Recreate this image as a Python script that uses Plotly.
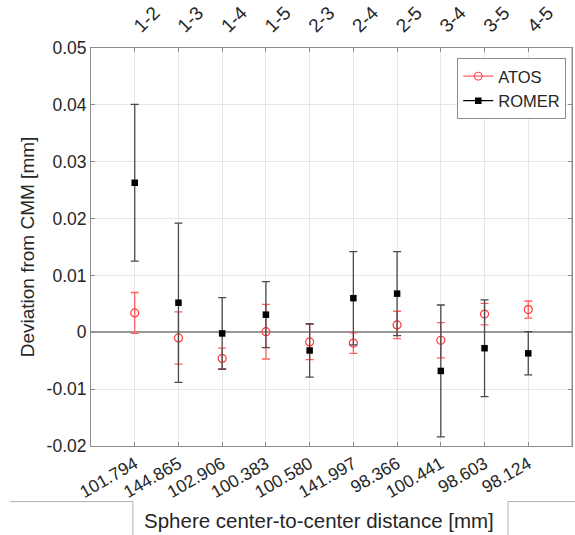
import plotly.graph_objects as go

pairs = ["1-2", "1-3", "1-4", "1-5", "2-3", "2-4", "2-5", "3-4", "3-5", "4-5"]
distances = ["101.794", "144.865", "102.906", "100.383", "100.580",
             "141.997", "98.366", "100.441", "98.603", "98.124"]
positions = list(range(1, 11))

atos_dev = [0.0034, -0.0010, -0.0046, 0.0001, -0.0017, -0.0019, 0.0013, -0.0014, 0.0032, 0.0040]
atos_err = [0.0036, 0.0046, 0.0018, 0.0048, 0.0031, 0.0018, 0.0024, 0.0031, 0.0019, 0.0015]
romer_dev = [0.0263, 0.0052, -0.0002, 0.0031, -0.0032, 0.0060, 0.0068, -0.0068, -0.0028, -0.0037]
romer_err = [0.0138, 0.0140, 0.0063, 0.0058, 0.0047, 0.0082, 0.0074, 0.0116, 0.0085, 0.0038]

FONT = "Liberation Sans, Arial, sans-serif"

fig = go.Figure()

fig.add_trace(go.Scatter(
    x=positions, y=atos_dev, mode="markers", name="ATOS", showlegend=False,
    marker=dict(symbol="circle-open", color="#ff3b3b", size=8, line=dict(width=1.2)),
    error_y=dict(type="data", array=atos_err, visible=True, color="#ff6060",
                 thickness=1.3, width=4),
))
fig.add_trace(go.Scatter(
    x=positions, y=romer_dev, mode="markers", name="ROMER", showlegend=False,
    marker=dict(symbol="square", color="black", size=6.5),
    error_y=dict(type="data", array=romer_err, visible=True, color="#4a4a4a",
                 thickness=1.3, width=4),
))
# legend entries (line + marker, MATLAB style)
fig.add_trace(go.Scatter(
    x=[None], y=[None], mode="lines+markers", name="ATOS",
    line=dict(color="#ff6060", width=1.3),
    marker=dict(symbol="circle-open", color="#ff3b3b", size=8),
))
fig.add_trace(go.Scatter(
    x=[None], y=[None], mode="lines+markers", name="ROMER",
    line=dict(color="black", width=1.3),
    marker=dict(symbol="square", color="black", size=6.5),
))
# invisible trace for the top axis
fig.add_trace(go.Scatter(
    x=positions, y=atos_dev, xaxis="x2", mode="markers",
    marker=dict(opacity=0), showlegend=False, hoverinfo="skip",
))

axis_common = dict(
    showline=True, linecolor="#8c8c8c", linewidth=1,
    ticks="inside", ticklen=4, tickcolor="#8c8c8c",
    showgrid=True, gridcolor="#e6e6e6", gridwidth=1,
)
tick_font = dict(family=FONT, size=17.5, color="#262626")

fig.update_layout(
    width=575, height=535,
    margin=dict(l=91, r=2, t=45, b=89),
    paper_bgcolor="white", plot_bgcolor="white",
    font=dict(family=FONT, color="#262626"),
    xaxis=dict(
        range=[0, 11], tickmode="array", tickvals=positions, ticktext=distances,
        tickangle=-30, mirror=False, zeroline=False, tickfont=tick_font,
        **axis_common,
    ),
    xaxis2=dict(
        range=[0, 11], tickmode="array", tickvals=positions, ticktext=pairs,
        tickangle=-45, overlaying="x", side="top", zeroline=False,
        tickfont=dict(family=FONT, size=19, color="#262626"), ticklabelstandoff=3,
        **axis_common,
    ),
    yaxis=dict(
        range=[-0.02, 0.05], tickmode="array",
        tickvals=[-0.02, -0.01, 0, 0.01, 0.02, 0.03, 0.04, 0.05],
        ticktext=["-0.02", "-0.01", "0", "0.01", "0.02", "0.03", "0.04", "0.05"],
        mirror="ticks", zeroline=True, zerolinecolor="#999999", zerolinewidth=1.5,
        tickfont=tick_font,
        title=dict(text="Deviation from CMM [mm]",
                   font=dict(family=FONT, size=19, color="#262626"), standoff=6),
        **axis_common,
    ),
    legend=dict(
        x=0.988, y=0.975, xanchor="right", yanchor="top",
        bgcolor="white", bordercolor="#8c8c8c", borderwidth=1,
        font=dict(family=FONT, size=16.5, color="#262626"),
        tracegroupgap=0, itemwidth=30,
    ),
    showlegend=True,
)

# right border
fig.add_shape(type="line", xref="paper", yref="paper", x0=1, x1=1, y0=0, y1=1,
              line=dict(color="#8c8c8c", width=1))

fig.add_annotation(
    text="Sphere center-to-center distance [mm]", xref="paper", yref="paper",
    x=0.475, y=-0.186, showarrow=False, xanchor="center", yanchor="middle",
    font=dict(family=FONT, size=20.5, color="#262626"),
)

gray = dict(color="#b0b0b0", width=1)
fig.add_shape(type="line", xref="paper", yref="paper", x0=-0.168, x1=0.0871,
              y0=-0.1397, y1=-0.1397, line=gray)
fig.add_shape(type="line", xref="paper", yref="paper", x0=0.0871, x1=0.0871,
              y0=-0.1397, y1=-0.23, line=gray)
fig.add_shape(type="line", xref="paper", yref="paper", x0=0.867, x1=0.867,
              y0=-0.1397, y1=-0.23, line=gray)
fig.add_shape(type="line", xref="paper", yref="paper", x0=0.867, x1=1.01,
              y0=-0.1397, y1=-0.1397, line=gray)

fig.write_html("out.html")
